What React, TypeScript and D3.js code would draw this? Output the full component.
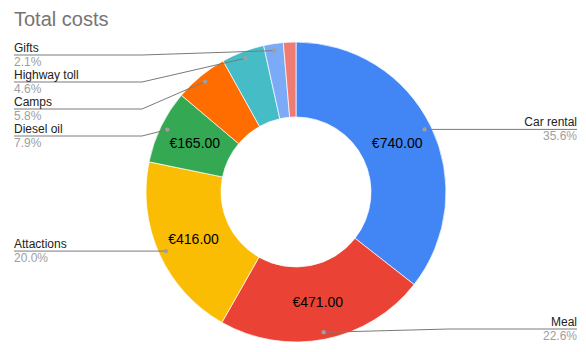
import {useEffect, useRef} from 'react';
import * as d3 from 'd3';

const categories = ['Car rental', 'Meal', 'Attactions', 'Diesel oil', 'Camps', 'Highway toll', 'Gifts', 'Other'];
const costs = [740, 471, 416, 165, 120, 96, 44, 28];
const colors = ['#4285F4', '#EA4335', '#FBBC04', '#34A853', '#FF6D01', '#46BDC6', '#7BAAF7', '#F07B72'];
const showLabel = [true, true, true, true, true, true, true, false];

interface Slice {
  name: string;
  value: number;
  color: string;
  labeled: boolean;
}

const W = 586;
const H = 352;

const App = () => {
  const svgRef = useRef<SVGSVGElement | null>(null);

  useEffect(() => {
    if (!svgRef.current) return;
    const svg = d3.select(svgRef.current);
    svg.selectAll('*').remove();

    const data: Slice[] = categories.map((name, i) => ({
      name,
      value: costs[i],
      color: colors[i],
      labeled: showLabel[i],
    }));
    const total = d3.sum(costs);

    const cx = 296;
    const cy = 192;
    const outer = 150;
    const inner = 75;

    svg
      .append('text')
      .attr('x', 14)
      .attr('y', 26)
      .attr('font-family', 'Arial, sans-serif')
      .attr('font-size', 20)
      .attr('fill', '#757575')
      .text('Total costs');

    const pie = d3.pie<Slice>().sort(null).value((d) => d.value);
    const arcs = pie(data);
    const arc = d3.arc<d3.PieArcDatum<Slice>>().innerRadius(inner).outerRadius(outer);

    const g = svg.append('g').attr('transform', `translate(${cx},${cy})`);
    g.selectAll('path')
      .data(arcs)
      .join('path')
      .attr('d', arc)
      .attr('fill', (d) => d.data.color)
      .attr('stroke', '#fff')
      .attr('stroke-width', 0.7);

    // values inside the bigger slices
    g.selectAll('text.val')
      .data(arcs.filter((d) => d.data.value / total > 0.07))
      .join('text')
      .attr('class', 'val')
      .attr('transform', (d) => `translate(${arc.centroid(d)})`)
      .attr('text-anchor', 'middle')
      .attr('dy', '0.36em')
      .attr('font-family', 'Arial, sans-serif')
      .attr('font-size', 14)
      .attr('fill', '#000')
      .text((d) => `€${d3.format('.2f')(d.data.value)}`);

    // outside labels with leader lines
    const dotR = 143;
    const spacing = 27;
    const minY = 55;
    const maxY = 329;
    const pts = arcs
      .filter((d) => d.data.labeled)
      .map((d) => {
        const a = (d.startAngle + d.endAngle) / 2;
        return {
          d,
          x: cx + dotR * Math.sin(a),
          y: cy - dotR * Math.cos(a),
          right: a < Math.PI,
          lineY: 0,
        };
      });

    const place = (list: typeof pts) => {
      list.sort((a, b) => a.y - b.y);
      let prev = -Infinity;
      list.forEach((p) => {
        p.lineY = Math.min(maxY, Math.max(p.y, minY, prev + spacing));
        prev = p.lineY;
      });
    };
    place(pts.filter((p) => p.right));
    place(pts.filter((p) => !p.right));

    const leftX = 14;
    const rightX = 577;
    const bendW = 128;
    const pct = d3.format('.1%');

    pts.forEach((p) => {
      const edge = p.right ? rightX : leftX;
      const bend = p.right ? rightX - bendW : leftX + bendW;
      const bx = p.right ? Math.max(bend, p.x) : Math.min(bend, p.x);
      svg
        .append('path')
        .attr('d', d3.line()([[p.x, p.y], [bx, p.lineY], [edge, p.lineY]]))
        .attr('stroke', '#7a7a7a')
        .attr('stroke-width', 1)
        .attr('fill', 'none');
      svg
        .append('circle')
        .attr('cx', p.x)
        .attr('cy', p.y)
        .attr('r', 2.2)
        .attr('fill', '#9e9e9e');
      const anchor = p.right ? 'end' : 'start';
      svg
        .append('text')
        .attr('x', edge)
        .attr('y', p.lineY - 3)
        .attr('text-anchor', anchor)
        .attr('font-family', 'Arial, sans-serif')
        .attr('font-size', 12)
        .attr('fill', '#222')
        .text(p.d.data.name);
      svg
        .append('text')
        .attr('x', edge)
        .attr('y', p.lineY + 11)
        .attr('text-anchor', anchor)
        .attr('font-family', 'Arial, sans-serif')
        .attr('font-size', 12)
        .attr('fill', '#9e9e9e')
        .text(pct(p.d.data.value / total));
    });
  }, []);

  return (
    <svg
      ref={svgRef}
      width={W}
      height={H}
      style={{position: 'absolute', left: 0, top: 0, background: '#fff'}}
    ></svg>
  );
};

export default App;
